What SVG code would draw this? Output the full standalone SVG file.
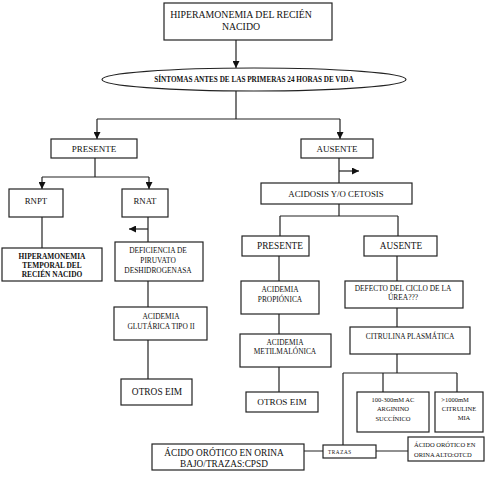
<svg xmlns="http://www.w3.org/2000/svg" width="499" height="478" viewBox="0 0 499 478">
<style>
.b{fill:#fff;stroke:#222;stroke-width:1.2}
.c{fill:none;stroke:#222;stroke-width:1.2}
text{font-family:"Liberation Serif","Times New Roman",serif;fill:#111;text-anchor:middle}
.t9{font-size:9.5px}
.t8{font-size:8.8px}
.t7{font-size:7.4px}
.t6{font-size:6.5px}
.bd{font-weight:bold}
</style>
<defs>
<marker id="a" viewBox="0 0 10 10" refX="10" refY="5" markerWidth="7" markerHeight="7" markerUnits="userSpaceOnUse" orient="auto"><path d="M0,0L10,5L0,10z" fill="#111"/></marker>
</defs>
<rect width="499" height="478" fill="#fff"/>
<g id="connectors">
<path class="c" d="M236,40V68" marker-end="url(#a)"/>
<path class="c" d="M236,91V119M97,119H340"/>
<path class="c" d="M97,119V139" marker-end="url(#a)"/>
<path class="c" d="M340,119V139" marker-end="url(#a)"/>
<path class="c" d="M95,158V177M42,177H149"/>
<path class="c" d="M42,177V189" marker-end="url(#a)"/>
<path class="c" d="M149,177V189" marker-end="url(#a)"/>
<path class="c" d="M42,217V248"/>
<path class="c" d="M148,217V242"/>
<path class="c" d="M148,229H129" marker-end="url(#a)"/>
<path class="c" d="M148,281V307M148,340V379"/>
<path class="c" d="M339,158V183"/>
<path class="c" d="M339,171H359" marker-end="url(#a)"/>
<path class="c" d="M339,204V216M280,216H398M280,216V236M398,216V236"/>
<path class="c" d="M279,256V281M279,314V334M279,367V392"/>
<path class="c" d="M397,256V281M397,308V327M397,354V373M343,373H457M383,373V392M457,373V392M343,373V445"/>
<path class="c" d="M323,451H304M376,451H408"/>
</g>
<g id="n-top"><rect class="b" x="164" y="3" width="168" height="37"/><text style="font-size:9.8px" x="241" y="18">HIPERAMONEMIA DEL RECIÉN</text><text style="font-size:9.8px" x="241" y="30">NACIDO</text></g>
<g id="n-sintomas"><ellipse class="b" cx="254" cy="79.5" rx="152" ry="11.5"/><text class="bd" style="font-size:7.2px" x="254" y="82">SÍNTOMAS ANTES DE LAS PRIMERAS 24 HORAS DE VIDA</text></g>
<g id="n-presente"><rect class="b" x="51" y="139" width="86" height="19"/><text style="font-size:9px" x="94" y="151.5">PRESENTE</text></g>
<g id="n-ausente"><rect class="b" x="301" y="139" width="72" height="19"/><text style="font-size:9px" x="337" y="151.5">AUSENTE</text></g>
<g id="n-rnpt"><rect class="b" x="9" y="189" width="54" height="28"/><text class="t8" x="36" y="203.5">RNPT</text></g>
<g id="n-rnat"><rect class="b" x="122" y="189" width="46" height="28"/><text class="t8" x="145" y="203.5">RNAT</text></g>
<g id="n-hiper-temporal"><rect class="b" x="2" y="248" width="100" height="33"/><text class="bd" style="font-size:7.4px" x="52" y="259">HIPERAMONEMIA</text><text class="bd" style="font-size:7.4px" x="52" y="268">TEMPORAL DEL</text><text class="bd" style="font-size:7.4px" x="52" y="277">RECIÉN NACIDO</text></g>
<g id="n-deficiencia"><rect class="b" x="115" y="242" width="88" height="39"/><text class="t7" x="158" y="253">DEFICIENCIA DE</text><text class="t7" x="158" y="263">PIRUVATO</text><text class="t7" x="158" y="273">DESHIDROGENASA</text></g>
<g id="n-glutarica"><rect class="b" x="114" y="307" width="93" height="33"/><text class="t7" x="161" y="319">ACIDEMIA</text><text class="t7" x="161" y="329">GLUTÁRICA TIPO II</text></g>
<g id="n-otros1"><rect class="b" x="121" y="379" width="71" height="26"/><text style="font-size:9.4px" x="157" y="395">OTROS EIM</text></g>
<g id="n-acidosis"><rect class="b" x="261" y="183" width="151" height="21"/><text style="font-size:8.8px" x="336" y="196.5">ACIDOSIS Y/O CETOSIS</text></g>
<g id="n-presente2"><rect class="b" x="242" y="236" width="67" height="20"/><text style="font-size:9.3px" x="280" y="249">PRESENTE</text></g>
<g id="n-ausente2"><rect class="b" x="364" y="236" width="73" height="20"/><text style="font-size:9.3px" x="401" y="249">AUSENTE</text></g>
<g id="n-propionica"><rect class="b" x="241" y="281" width="78" height="33"/><text class="t7" x="280" y="292">ACIDEMIA</text><text class="t7" x="280" y="302">PROPIÓNICA</text></g>
<g id="n-metil"><rect class="b" x="240" y="334" width="91" height="33"/><text class="t7" x="285" y="345">ACIDEMIA</text><text class="t7" x="285" y="354">METILMALÓNICA</text></g>
<g id="n-otros2"><rect class="b" x="246" y="392" width="72" height="20"/><text style="font-size:9.2px" x="282" y="405">OTROS EIM</text></g>
<g id="n-defecto"><rect class="b" x="345" y="281" width="118" height="27"/><text class="t7" x="403" y="291">DEFECTO DEL CICLO DE LA</text><text class="t7" x="403" y="300">ÚREA???</text></g>
<g id="n-citrulina"><rect class="b" x="350" y="327" width="120" height="27"/><text class="t7" x="410" y="339">CITRULINA PLASMÁTICA</text></g>
<g id="n-argininosuccinico"><rect class="b" x="357" y="392" width="72" height="40"/><text class="t6" x="393" y="402">100-300mM AC</text><text class="t6" x="393" y="411">ARGININO</text><text class="t6" x="393" y="421">SUCCÍNICO</text></g>
<g id="n-citrulinemia"><rect class="b" x="435" y="392" width="48" height="40"/><text class="t6" x="455" y="402">&gt;1000mM</text><text class="t6" x="459" y="411">CITRULINE</text><text class="t6" x="464" y="420">MIA</text></g>
<g id="n-trazas"><rect class="b" x="323" y="445" width="53" height="13"/><text style="font-size:5.2px;letter-spacing:0.6px;text-anchor:start" x="328" y="453.5">TRAZAS</text></g>
<g id="n-bajo"><rect class="b" x="152" y="444" width="152" height="26"/><text style="font-size:9.3px" x="224" y="455.5">ÁCIDO ORÓTICO EN ORINA</text><text style="font-size:9.3px" x="224" y="466.5">BAJO/TRAZAS:CPSD</text></g>
<g id="n-alto"><rect class="b" x="408" y="437" width="76" height="24"/><text class="t6" style="text-anchor:start" x="414" y="447">ÁCIDO ORÓTICO EN</text><text class="t6" style="text-anchor:start" x="414" y="457">ORINA ALTO:OTCD</text></g>
</svg>
